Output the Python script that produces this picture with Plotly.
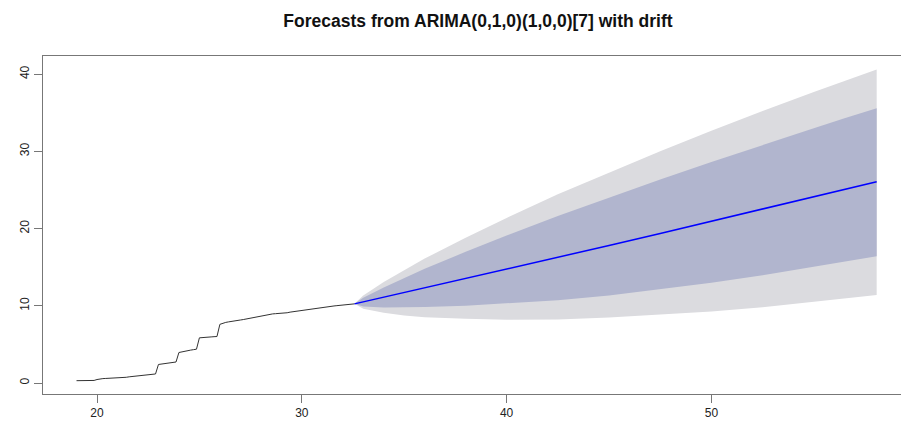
import plotly.graph_objects as go

# ---- data ----
hist_start = 19.0
hist_freq = 7
hist_values = [
    0.30, 0.30, 0.30, 0.31, 0.32, 0.32, 0.33,
    0.45, 0.55, 0.57, 0.59, 0.60, 0.62, 0.64,
    0.66, 0.68, 0.70, 0.74, 0.80, 0.84, 0.88,
    0.92, 0.96, 1.00, 1.04, 1.08, 1.12, 1.17,
    2.40, 2.46, 2.50, 2.55, 2.60, 2.65, 2.72,
    3.95, 4.05, 4.12, 4.20, 4.26, 4.32, 4.38,
    5.85, 5.90, 5.93, 5.95, 5.97, 6.00, 6.02,
    7.60, 7.75, 7.85, 7.92, 8.00, 8.06, 8.12,
    8.16, 8.22, 8.30, 8.38, 8.45, 8.52, 8.58,
    8.62, 8.70, 8.80, 8.90, 8.95, 8.98, 9.00,
    9.02, 9.05, 9.10, 9.18, 9.24, 9.28, 9.32,
    9.37, 9.42, 9.48, 9.55, 9.62, 9.67, 9.72,
    9.77, 9.82, 9.88, 9.93, 9.98, 10.02, 10.06,
    10.10, 10.15, 10.20, 10.23, 10.25,
]
hist_x = [hist_start + i / hist_freq for i in range(len(hist_values))]

fc_x    = [32.57, 33.0, 34.0, 35.0, 36.0, 38.0, 40.0, 42.5, 45.0, 47.5, 50.0, 52.5, 55.0, 56.5, 58.07]
fc_mean = [10.25, 10.51, 11.11, 11.71, 12.31, 13.52, 14.73, 16.26, 17.81, 19.37, 20.95, 22.54, 24.14, 25.10, 26.08]
hi95    = [10.25, 11.33, 13.07, 14.65, 16.12, 18.81, 21.39, 24.44, 27.28, 30.03, 32.67, 35.25, 37.70, 39.15, 40.60]
lo95    = [10.25, 9.61, 9.09, 8.75, 8.52, 8.31, 8.19, 8.24, 8.48, 8.83, 9.27, 9.80, 10.50, 10.93, 11.40]
hi80    = [10.25, 11.03, 12.38, 13.63, 14.81, 16.99, 19.11, 21.64, 24.03, 26.36, 28.62, 30.84, 33.00, 34.28, 35.60]
lo80    = [10.25, 9.91, 9.78, 9.77, 9.83, 10.02, 10.28, 10.72, 11.35, 12.15, 13.00, 13.95, 15.00, 15.70, 16.42]

x_ticks = [20, 30, 40, 50]
y_ticks = [0, 10, 20, 30, 40]
title_text = "Forecasts from ARIMA(0,1,0)(1,0,0)[7] with drift"

fig = go.Figure()
fig.add_trace(go.Scatter(
    x=fc_x + fc_x[::-1], y=hi95 + lo95[::-1], fill="toself",
    fillcolor="#DBDBDF", line=dict(width=0), mode="lines",
    hoverinfo="skip", showlegend=False))
fig.add_trace(go.Scatter(
    x=fc_x + fc_x[::-1], y=hi80 + lo80[::-1], fill="toself",
    fillcolor="#B1B5CE", line=dict(width=0), mode="lines",
    hoverinfo="skip", showlegend=False))
fig.add_trace(go.Scatter(
    x=fc_x, y=fc_mean, mode="lines",
    line=dict(color="#0000FF", width=1.5), showlegend=False))
fig.add_trace(go.Scatter(
    x=hist_x, y=hist_values, mode="lines",
    line=dict(color="#333333", width=1.0), showlegend=False))

fig.update_layout(
    width=902, height=430,
    margin=dict(l=43, r=1, t=56, b=36),
    paper_bgcolor="white", plot_bgcolor="white",
    font=dict(family="Liberation Sans, Arial, sans-serif", size=12, color="#222222"),
    title=dict(text="<b>" + title_text + "</b>", x=478 / 902, xref="container",
               xanchor="center", y=1 - 21 / 430, yref="container", yanchor="middle",
               font=dict(size=17.5, color="#111111")),
    xaxis=dict(range=[17.363, 59.258], tickvals=x_ticks, ticks="outside",
               ticklen=8, tickcolor="#777777", showline=True, linecolor="#777777",
               linewidth=1, mirror=True, showgrid=False, zeroline=False),
    yaxis=dict(range=[-1.425, 42.36], tickvals=y_ticks, ticks="outside",
               ticklen=8, tickcolor="#777777", showline=True, linecolor="#777777",
               linewidth=1, showgrid=False, zeroline=False, tickangle=-90),
)

fig.write_html(
    "out.html",
    config={"displayModeBar": False},
    post_script="document.body.style.margin='0';document.body.style.overflow='hidden';",
)
